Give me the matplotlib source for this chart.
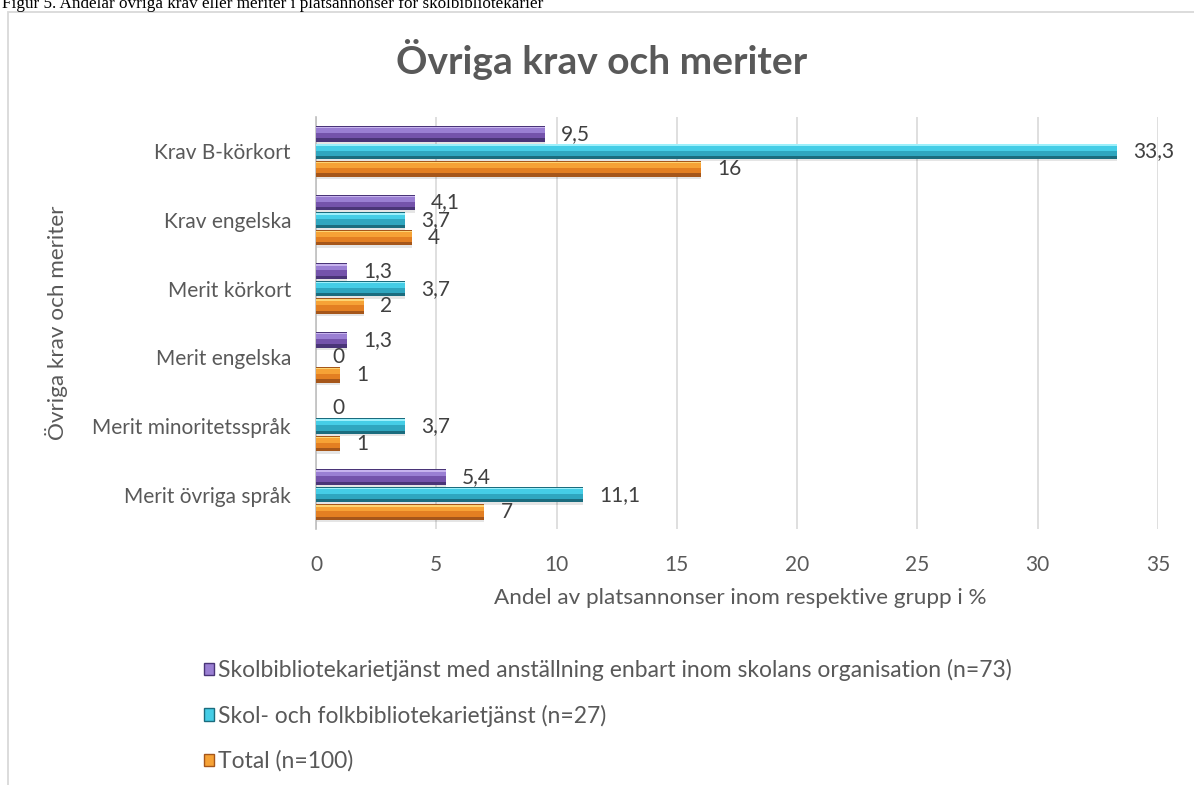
import matplotlib.pyplot as plt
from matplotlib.patches import Rectangle, Patch

# data
categories = ['Krav B-körkort', 'Krav engelska', 'Merit körkort',
              'Merit engelska', 'Merit minoritetsspråk', 'Merit övriga språk']
skolbibl = [9.5, 4.1, 1.3, 1.3, 0, 5.4]
skol_folk = [33.3, 3.7, 3.7, 0, 3.7, 11.1]
total = [16, 4, 2, 1, 1, 7]
series_names = ['Skolbibliotekarietjänst med anställning enbart inom skolans organisation (n=73)',
                'Skol- och folkbibliotekarietjänst (n=27)',
                'Total (n=100)']
x_ticks = [0, 5, 10, 15, 20, 25, 30, 35]

# bevel shades: (dark edge, lower body, upper body, top highlight)
colors = [('#4a3578', '#7453ab', '#9a7fd3', '#c7b3ee'),
          ('#1b6c7e', '#2fa6bf', '#45cde6', '#9cf0fb'),
          ('#a5561a', '#e37f22', '#f6a236', '#fdd472')]

plt.rcParams['font.family'] = ['Lato', 'DejaVu Sans']
W, H = 1194, 785

fig = plt.figure(figsize=(W / 100, H / 100), dpi=100)
fig.patch.set_facecolor('white')

# chart frame (light grey, runs off the page at right/bottom)
fig.add_artist(Rectangle((8 / W, -0.1), 1.2, 1 - 12 / H + 0.1, transform=fig.transFigure,
                         fill=False, edgecolor='#d9d9d9', lw=1.3))

fig.text(2 / W, 1 - 8 / H,
         'Figur 5. Andelar övriga krav eller meriter i platsannonser för skolbibliotekarier',
         family='Liberation Serif', fontsize=12.3, va='baseline', ha='left', color='black')

ax = fig.add_axes([316 / W, 1 - 529 / H, 842 / W, 412 / H])

h = 0.225
offsets = [-0.255, 0, 0.255]
for vals, off, (dark, low, up, top) in zip([skolbibl, skol_folk, total], offsets, colors):
    ys = [i + off for i in range(len(categories))]
    # soft shadow
    ax.barh([y + 0.035 for y in ys], vals, height=h, color='#000000', alpha=0.10, lw=0, zorder=2)
    ax.barh(ys, vals, height=h, color=dark, lw=0, zorder=3)
    ax.barh([y - 0.06 * h for y in ys], vals, height=h * 0.72, color=low, lw=0, zorder=4)
    ax.barh([y - 0.23 * h for y in ys], vals, height=h * 0.36, color=up, lw=0, zorder=5)
    ax.barh([y - 0.40 * h for y in ys], vals, height=h * 0.1, color=top, lw=0, zorder=6)
    for y, v in zip(ys, vals):
        lab = ('%g' % v).replace('.', ',')
        ax.annotate(lab, (v, y), xytext=(16, 0), textcoords='offset pixels',
                    ha='left', va='center', fontsize=15, color='#404040', zorder=7)

ax.set_xlim(0, 35)
ax.set_ylim(len(categories) - 0.5, -0.5)
ax.set_xticks(x_ticks)
ax.set_xticklabels([str(t) for t in x_ticks])
ax.set_yticks(range(len(categories)))
ax.set_yticklabels(categories)
ax.tick_params(axis='both', length=0, labelsize=15, labelcolor='#595959')
ax.tick_params(axis='x', pad=19)
ax.tick_params(axis='y', pad=18)
ax.grid(axis='x', color='#d9d9d9', lw=1.2, zorder=0)
ax.set_axisbelow(True)
for s in ['top', 'right', 'bottom']:
    ax.spines[s].set_visible(False)
ax.spines['left'].set_color('#bfbfbf')
ax.spines['left'].set_linewidth(1.2)

fig.text(602 / W, 1 - 60 / H, 'Övriga krav och meriter', ha='center', va='center',
         fontsize=28, fontweight='bold', color='#595959')
fig.text(740 / W, 1 - 598 / H, 'Andel av platsannonser inom respektive grupp i %',
         ha='center', va='center', fontsize=16.2, color='#595959')
fig.text(57 / W, 1 - 323 / H, 'Övriga krav och meriter', ha='center', va='center',
         rotation=90, fontsize=16.2, color='#595959')

handles = [Patch(facecolor=c[2], edgecolor=c[0], lw=1) for c in colors]
fig.legend(handles, series_names, loc='upper left', bbox_to_anchor=(204 / W, 1 - 659 / H),
           frameon=False, fontsize=16.5, labelcolor='#595959', handlelength=0.45,
           handleheight=0.45, handletextpad=0.15, labelspacing=1.03, borderpad=0,
           borderaxespad=0)

fig.savefig('out.png', dpi=100)
